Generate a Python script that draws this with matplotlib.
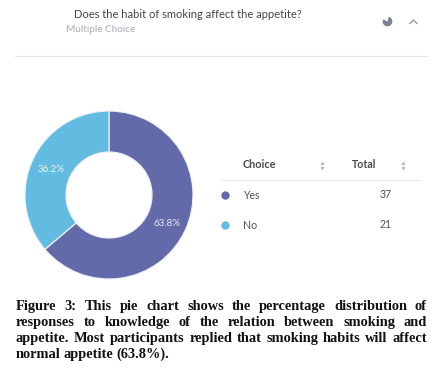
import matplotlib
matplotlib.use("Agg")
import matplotlib.pyplot as plt

W, H = 442, 371

question = "Does the habit of smoking affect the appetite?"
subtitle = "Multiple Choice"
choices = ["Yes", "No"]
totals = [37, 21]
shares = [63.8, 36.2]
colors = ["#636aaa", "#62bbe0"]
caption_lines = [
    "Figure 3: This pie chart shows the percentage distribution of",
    "responses to knowledge of the relation between smoking and",
    "appetite. Most participants replied that smoking habits will affect",
    "normal appetite (63.8%).",
]

plt.rcParams["font.family"] = ["Lato", "DejaVu Sans"]

fig = plt.figure(figsize=(W / 100, H / 100), dpi=100)
bg = fig.add_axes([0, 0, 1, 1])
bg.set_xlim(0, W)
bg.set_ylim(H, 0)
bg.axis("off")
bg.set_zorder(5)  # text layer goes over the donut

# header
bg.text(74, 14, question, fontsize=8.05, color="#45454a", va="center")
bg.text(66, 30, subtitle, fontsize=7.2, color="#a9acb3", va="center")
bg.plot([15, 427], [56, 56], color="#e6e7ea", lw=0.8)

# little pie icon and chevron
icon = fig.add_axes([382 / W, 1 - 27 / H, 11 / W, 11 / H])
icon.pie([78, 22], colors=["#7d8296", "none"], startangle=75, counterclock=False, radius=1.1)
icon.set_aspect("equal")
bg.plot([410, 413.5, 417], [23.5, 20, 23.5], color="#9a9da8", lw=1)

# donut
ax = fig.add_axes([(109 - 90) / W, 1 - (195 + 90) / H, 180 / W, 180 / H])
ax.pie(shares, colors=colors, startangle=90, counterclock=False, radius=84 / 90,
       wedgeprops=dict(width=41 / 90, edgecolor="#eef0f4", linewidth=0.9))
ax.set_xlim(-1, 1)
ax.set_ylim(-1, 1)
ax.set_aspect("equal")
bg.text(167, 223, f"{shares[0]}%", fontsize=7, color="#e8e9f2", ha="center", va="center")
bg.text(51, 170, f"{shares[1]}%", fontsize=7, color="#eef7fb", ha="center", va="center")

# table
bg.text(243, 165, "Choice", fontsize=7.8, fontweight="bold", color="#4a4a4f", va="center")
bg.text(352, 165, "Total", fontsize=7.6, fontweight="bold", color="#4a4a4f", va="center")
for x in [322, 403]:
    bg.plot([x], [163], marker="^", ms=1.5, color="#b5b7bd")
    bg.plot([x], [167.5], marker="v", ms=1.5, color="#b5b7bd")
bg.plot([221, 420], [180, 180], color="#e9eaed", lw=0.8)
for name, total, c, y in zip(choices, totals, colors, [195, 225]):
    bg.plot([225], [y], "o", ms=6, color=c, mec="none")
    bg.text(243, y + 0.5, name, fontsize=7.6, color="#4f5056", va="center")
    bg.text(392, y, str(total), fontsize=7.6, color="#4f5056", va="center", ha="right")

# caption, justified by hand between x0 and x1
x0, x1 = 16, 427
r = fig.canvas.get_renderer()
for i, (line, y) in enumerate(zip(caption_lines, [310, 326, 342, 358])):
    words = line.split(" ")
    arts = [bg.text(x0, y, w, fontsize=10.4, family="Liberation Serif", fontweight="bold",
                    color="#111111", va="baseline") for w in words]
    widths = [a.get_window_extent(r).width for a in arts]
    if i < len(caption_lines) - 1:
        gap = (x1 - x0 - sum(widths)) / (len(words) - 1)
    else:
        gap = 3
    x = x0
    for a, w in zip(arts, widths):
        a.set_x(x)
        x += w + gap

fig.savefig("out.png", dpi=100, facecolor="white")
